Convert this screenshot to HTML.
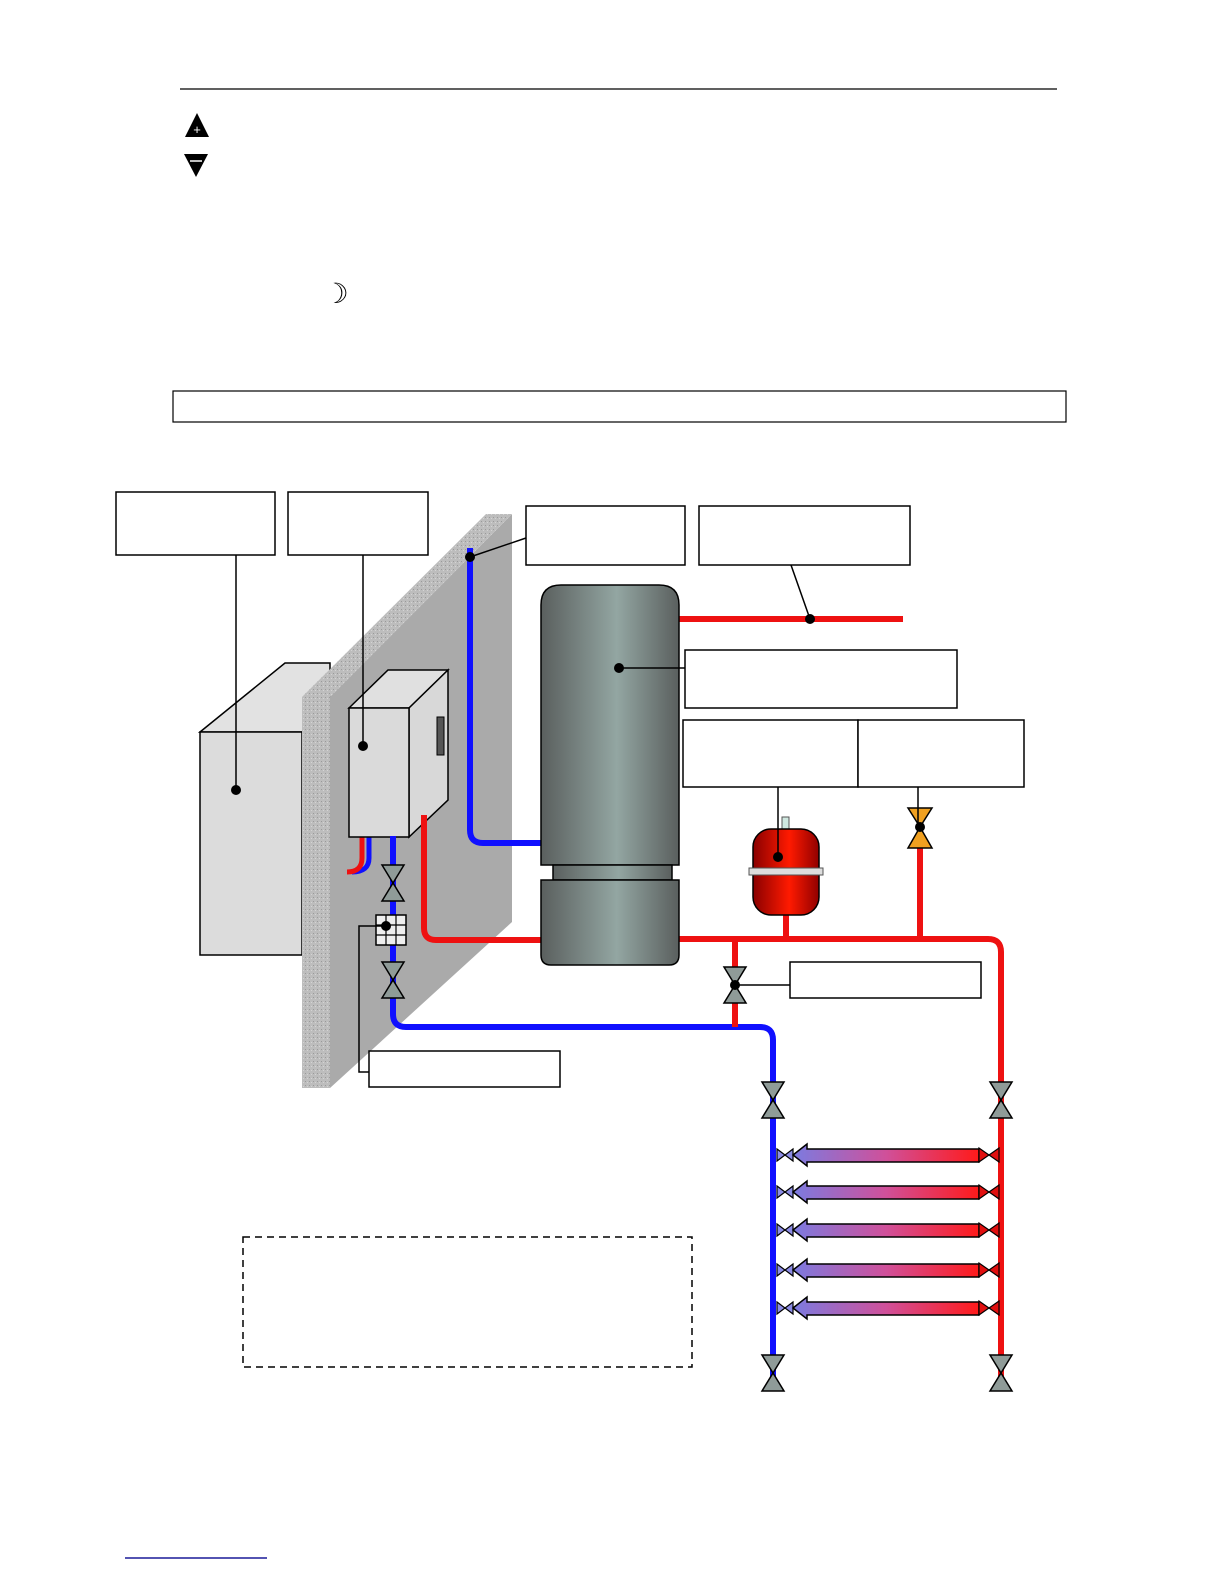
<!DOCTYPE html>
<html><head><meta charset="utf-8"><style>
html,body{margin:0;padding:0;background:#fff;overflow:hidden;width:1224px;height:1584px;}
svg{display:block;}
</style></head><body>
<svg width="1224" height="1584" viewBox="0 0 1224 1584" xmlns="http://www.w3.org/2000/svg">
<defs>
<linearGradient id="tank" x1="0" x2="1" y1="0" y2="0">
<stop offset="0" stop-color="#5a5f5e"/><stop offset="0.55" stop-color="#93a6a2"/><stop offset="1" stop-color="#5a5f5e"/>
</linearGradient>
<linearGradient id="exp" x1="0" x2="1">
<stop offset="0" stop-color="#8a0000"/><stop offset="0.55" stop-color="#ff1a00"/><stop offset="1" stop-color="#900000"/>
</linearGradient>
<linearGradient id="arr" x1="0" x2="1">
<stop offset="0" stop-color="#7b7be0"/><stop offset="0.5" stop-color="#d0509a"/><stop offset="1" stop-color="#ff1a1a"/>
</linearGradient>
<pattern id="tex" width="4" height="4" patternUnits="userSpaceOnUse">
<rect width="4" height="4" fill="#bdbdbd"/><rect x="1" y="1" width="1" height="1" fill="#9a9a9a"/><rect x="3" y="2" width="1" height="1" fill="#d4d4d4"/>
</pattern>
<g id="valve"><polygon points="-11,-18 11,-18 0,0" fill="#8f9b98" stroke="#000" stroke-width="1.5"/><polygon points="-11,18 11,18 0,0" fill="#8f9b98" stroke="#000" stroke-width="1.5"/></g>
<g id="rad">
<polygon points="0,-6 0,6 8,0" fill="#8c8ce6" stroke="#000" stroke-width="1.2"/>
<polygon points="16,-6 16,6 8,0" fill="#8c8ce6" stroke="#000" stroke-width="1.2"/>
<polygon points="16,0 30,-11 30,-6 202,-6 202,7 30,7 30,11" fill="url(#arr)" stroke="#000" stroke-width="1.5"/>
<polygon points="202,-7 202,7 212,0" fill="#e01010" stroke="#000" stroke-width="1.2"/>
<polygon points="222,-7 222,7 212,0" fill="#e01010" stroke="#000" stroke-width="1.2"/>
</g>
</defs>

<line x1="180" y1="89" x2="1057" y2="89" stroke="#000" stroke-width="1.2"/>
<polygon points="197,113 209,137 185,137" fill="#000"/>
<text x="197" y="134" font-family="Liberation Sans, sans-serif" font-size="13" fill="#fff" text-anchor="middle">+</text>
<polygon points="184,154 208,154 196,177" fill="#000"/>
<line x1="190" y1="161" x2="202" y2="161" stroke="#fff" stroke-width="1.5"/>
<text x="336" y="303" font-family="DejaVu Sans, sans-serif" font-size="28" fill="#000" text-anchor="middle">☽</text>
<rect x="173" y="391" width="893" height="31" fill="none" stroke="#000" stroke-width="1.2"/>

<polygon points="200,732 285,663 330,663 330,732" fill="#e2e2e2" stroke="#000" stroke-width="1.5"/>
<rect x="200" y="732" width="102" height="223" fill="#dcdcdc" stroke="#000" stroke-width="1.5"/>

<polygon points="330,697 512,514 512,922 330,1088" fill="#aaaaaa"/>
<polygon points="302,697 486,514 512,514 330,697" fill="url(#tex)"/>
<rect x="302" y="697" width="28" height="391" fill="url(#tex)"/>

<path d="M369,836 V858 Q369,872 352,872" fill="none" stroke="#1010ff" stroke-width="5"/>
<path d="M362,836 V858 Q362,872 347,872" fill="none" stroke="#ee1111" stroke-width="5"/>

<polygon points="349,708 388,670 448,670 409,708" fill="#e0e0e0" stroke="#000" stroke-width="1.5"/>
<polygon points="409,708 448,670 448,800 409,837" fill="#d8d8d8" stroke="#000" stroke-width="1.5"/>
<rect x="349" y="708" width="60" height="129" fill="#dadada" stroke="#000" stroke-width="1.5"/>
<rect x="437" y="717" width="7" height="38" fill="#555" stroke="#000"/>

<path d="M470,548 V830 Q470,843 483,843 H545" fill="none" stroke="#1010ff" stroke-width="6"/>
<path d="M424,815 V928 Q424,940 436,940 H545" fill="none" stroke="#ee1111" stroke-width="6"/>
<path d="M393,836 V1014 Q393,1027 406,1027 H760 Q773,1027 773,1040 V1390" fill="none" stroke="#1010ff" stroke-width="6"/>
<path d="M676,619 H903" fill="none" stroke="#ee1111" stroke-width="6"/>
<path d="M676,939 H988 Q1001,939 1001,952 V1390" fill="none" stroke="#ee1111" stroke-width="6"/>
<path d="M735,939 V1027" fill="none" stroke="#ee1111" stroke-width="6"/>
<path d="M786,912 V939" fill="none" stroke="#ee1111" stroke-width="6"/>
<path d="M920,840 V939" fill="none" stroke="#ee1111" stroke-width="6"/>

<path d="M541,865 V605 Q541,585 561,585 H659 Q679,585 679,605 V865 Z" fill="url(#tank)" stroke="#000" stroke-width="1.5"/>
<rect x="553" y="865" width="119" height="15" fill="url(#tank)" stroke="#000" stroke-width="1.5"/>
<path d="M541,880 H679 V955 Q679,965 669,965 H551 Q541,965 541,955 Z" fill="url(#tank)" stroke="#000" stroke-width="1.5"/>

<rect x="782" y="817" width="7" height="13" fill="#cfe8e0" stroke="#555"/>
<rect x="753" y="829" width="66" height="86" rx="18" fill="url(#exp)" stroke="#000" stroke-width="1.5"/>
<rect x="749" y="868" width="74" height="7" fill="#ddd" stroke="#555"/>

<polygon points="908,808 932,808 920,827" fill="#f0a020" stroke="#000" stroke-width="1.5"/>
<polygon points="908,848 932,848 920,827" fill="#f0a020" stroke="#000" stroke-width="1.5"/>

<use href="#valve" x="393" y="883"/>
<use href="#valve" x="393" y="980"/>
<use href="#valve" x="735" y="985"/>
<use href="#valve" x="773" y="1100"/>
<use href="#valve" x="1001" y="1100"/>
<use href="#valve" x="773" y="1373"/>
<use href="#valve" x="1001" y="1373"/>

<rect x="376" y="915" width="30" height="30" fill="#eee" stroke="#000" stroke-width="1.5"/>
<path d="M386,915 V945 M396,915 V945 M376,925 H406 M376,935 H406" stroke="#000" stroke-width="1.2"/>

<use href="#rad" x="777" y="1155"/>
<use href="#rad" x="777" y="1192"/>
<use href="#rad" x="777" y="1230"/>
<use href="#rad" x="777" y="1270"/>
<use href="#rad" x="777" y="1308"/>

<g fill="#fff" stroke="#000" stroke-width="1.5">
<rect x="116" y="492" width="159" height="63"/>
<rect x="288" y="492" width="140" height="63"/>
<rect x="526" y="506" width="159" height="59"/>
<rect x="699" y="506" width="211" height="59"/>
<rect x="685" y="650" width="272" height="58"/>
<rect x="683" y="720" width="175" height="67"/>
<rect x="858" y="720" width="166" height="67"/>
<rect x="790" y="962" width="191" height="36"/>
<rect x="369" y="1051" width="191" height="36"/>
</g>
<rect x="243" y="1237" width="449" height="130" fill="none" stroke="#000" stroke-width="1.5" stroke-dasharray="7,5"/>

<g stroke="#000" stroke-width="1.5" fill="none">
<line x1="236" y1="555" x2="236" y2="790"/>
<line x1="363" y1="555" x2="363" y2="746"/>
<line x1="526" y1="538" x2="470" y2="557"/>
<line x1="791" y1="565" x2="810" y2="619"/>
<line x1="685" y1="668" x2="619" y2="668"/>
<line x1="778" y1="787" x2="778" y2="857"/>
<line x1="918" y1="787" x2="918" y2="827"/>
<line x1="735" y1="985" x2="790" y2="985"/>
<polyline points="386,926 359,926 359,1072 369,1072"/>
</g>
<g fill="#000">
<circle cx="236" cy="790" r="5"/><circle cx="363" cy="746" r="5"/><circle cx="470" cy="557" r="5"/>
<circle cx="810" cy="619" r="5"/><circle cx="619" cy="668" r="5"/><circle cx="778" cy="857" r="5"/>
<circle cx="920" cy="827" r="5"/><circle cx="735" cy="985" r="5"/><circle cx="386" cy="926" r="5"/>
</g>

<line x1="125" y1="1558" x2="267" y2="1558" stroke="#1a1a99" stroke-width="1.5"/>
</svg>
</body></html>
